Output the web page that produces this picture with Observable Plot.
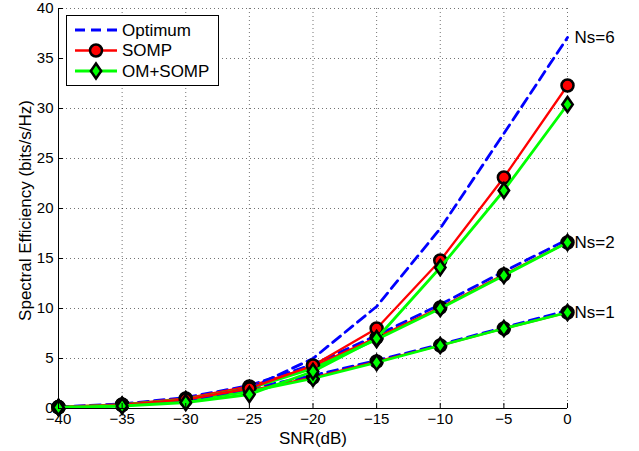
<!DOCTYPE html>
<html>
<head>
<meta charset="utf-8">
<script src="https://cdn.jsdelivr.net/npm/d3@7"></script>
<script src="https://cdn.jsdelivr.net/npm/@observablehq/plot@0.6"></script>
<style>
  html, body { margin: 0; padding: 0; background: #fff; }
  #wrap { position: relative; width: 639px; height: 451px; font-family: "Liberation Sans", Arial, Helvetica, sans-serif; }
  #legend { position: absolute; left: 66px; top: 15px; }
</style>
</head>
<body>
<div id="wrap"></div>
<script>
// ---- data ----
const snr = [-40, -35, -30, -25, -20, -15, -10, -5, 0];
const nsGroups = [1, 2, 6];
const optimum = {
  1: [0.15, 0.4, 1.0, 2.0, 3.3, 4.8, 6.4, 8.1, 9.8],
  2: [0.15, 0.45, 1.1, 2.3, 4.4, 7.3, 10.4, 13.7, 16.9],
  6: [0.1, 0.3, 0.8, 2.0, 5.0, 10.2, 18.0, 27.5, 37.1]
};
const somp = {
  1: [0.12, 0.35, 0.85, 1.8, 3.1, 4.7, 6.3, 8.0, 9.6],
  2: [0.15, 0.4, 1.0, 2.2, 4.2, 7.1, 10.1, 13.4, 16.6],
  6: [0.12, 0.35, 0.9, 2.0, 4.3, 8.0, 14.8, 23.1, 32.3]
};
const omSomp = {
  1: [0.1, 0.3, 0.8, 1.7, 3.0, 4.6, 6.3, 8.0, 9.6],
  2: [0.12, 0.35, 0.9, 2.0, 4.0, 6.9, 10.0, 13.3, 16.6],
  6: [0.1, 0.25, 0.6, 1.4, 3.7, 7.0, 14.1, 21.8, 30.4]
};
const nsLabels = ["Ns=6", "Ns=2", "Ns=1"];
const nsLabelY = [37.1, 16.6, 9.6];
const xTicks = [-40, -35, -30, -25, -20, -15, -10, -5, 0];
const yTicks = [0, 5, 10, 15, 20, 25, 30, 35, 40];
const seriesNames = ["Optimum", "SOMP", "OM+SOMP"];

// ---- build tidy rows ----
const rows = (obj, method) => nsGroups.flatMap(ns => snr.map((x, i) => ({ns, method, snr: x, se: obj[ns][i]})));
const optRows = rows(optimum, "Optimum");
const sompRows = rows(somp, "SOMP");
const omRows = rows(omSomp, "OM+SOMP");

const diamond = {
  draw(ctx, size) {
    const r = Math.sqrt(size / Math.PI);
    const h = r, w = r * 0.7;
    ctx.moveTo(0, -h); ctx.lineTo(w, 0); ctx.lineTo(0, h); ctx.lineTo(-w, 0); ctx.closePath();
  }
};

const BLUE = "#0000ff", RED = "#ff0000", GREEN = "#00ff00";

const marks = [
  Plot.gridX(xTicks, {stroke: "#000", strokeOpacity: 0.55, strokeDasharray: "1,3", strokeWidth: 1}),
  Plot.gridY(yTicks, {stroke: "#000", strokeOpacity: 0.55, strokeDasharray: "1,3", strokeWidth: 1}),
];
for (const ns of nsGroups) {
  const o = optRows.filter(d => d.ns === ns);
  const s = sompRows.filter(d => d.ns === ns);
  const m = omRows.filter(d => d.ns === ns);
  marks.push(
    Plot.line(o, {x: "snr", y: "se", stroke: BLUE, strokeWidth: 2.8, strokeDasharray: "10,6"}),
    Plot.line(s, {x: "snr", y: "se", stroke: RED, strokeWidth: 2.3}),
    Plot.dot(s, {x: "snr", y: "se", r: 6, fill: RED, stroke: "#000", strokeWidth: 2.5}),
    Plot.line(m, {x: "snr", y: "se", stroke: GREEN, strokeWidth: 2.8}),
    Plot.dot(m, {x: "snr", y: "se", r: 7.5, symbol: diamond, fill: GREEN, stroke: "#000", strokeWidth: 2.5})
  );
}
marks.push(
  Plot.text(nsLabels, {x: () => 0, y: (d, i) => nsLabelY[i], text: d => d, textAnchor: "start", dx: 7, fontSize: 17, fill: "#000"}),
  Plot.ruleX([-40], {stroke: "#000", strokeWidth: 1}),
  Plot.ruleY([0], {stroke: "#000", strokeWidth: 1}),
  Plot.ruleX(xTicks, {x: d => d, y1: 0, y2: 0.5, stroke: "#000"}),
  Plot.ruleY(yTicks, {y: d => d, x1: -40, x2: -39.6, stroke: "#000"}),
  Plot.axisX(xTicks, {tickSize: 0, tickPadding: 5, fontSize: 15, label: null, tickFormat: d3.format("d")}),
  Plot.axisY(yTicks, {tickSize: 0, tickPadding: 5, fontSize: 15, label: null}),
  Plot.text(["SNR(dB)"], {frameAnchor: "bottom", dy: 30, lineAnchor: "middle", textAnchor: "middle", fontSize: 17, fill: "#000"}),
  Plot.text(["Spectral Efficiency (bits/s/Hz)"], {frameAnchor: "left", dx: -33, dy: 2, rotate: -90, textAnchor: "middle", lineAnchor: "middle", fontSize: 17, fill: "#000"})
);

const chart = Plot.plot({
  width: 639,
  height: 451,
  marginLeft: 58,
  marginRight: 72,
  marginTop: 8,
  marginBottom: 43,
  style: {fontFamily: '"Liberation Sans", Arial, Helvetica, sans-serif', color: "#000", background: "#fff", overflow: "visible"},
  x: {domain: [-40, 0]},
  y: {domain: [0, 40]},
  marks
});
const wrap = document.getElementById("wrap");
wrap.appendChild(chart);

// ---- legend (overlay) ----
const ns = "http://www.w3.org/2000/svg";
const lg = document.createElementNS(ns, "svg");
lg.setAttribute("id", "legend");
lg.setAttribute("width", 153);
lg.setAttribute("height", 71);
const styles = [
  {name: seriesNames[0], color: BLUE, dash: "10,6", width: 2.8, marker: null},
  {name: seriesNames[1], color: RED, dash: null, width: 2.3, marker: "circle"},
  {name: seriesNames[2], color: GREEN, dash: null, width: 2.8, marker: "diamond"}
];
let html = `<rect x="0.5" y="0.5" width="152" height="70" fill="#fff" stroke="#000" stroke-width="1"/>`;
styles.forEach((s, i) => {
  const cy = 15 + i * 20.5;
  html += `<line x1="9" x2="51" y1="${cy}" y2="${cy}" stroke="${s.color}" stroke-width="${s.width}" ${s.dash ? `stroke-dasharray="${s.dash}"` : ""}/>`;
  if (s.marker === "circle") html += `<circle cx="30" cy="${cy}" r="6" fill="${RED}" stroke="#000" stroke-width="2.5"/>`;
  if (s.marker === "diamond") html += `<path d="M30,${cy - 7.5}L${30 + 5.2},${cy}L30,${cy + 7.5}L${30 - 5.2},${cy}Z" fill="${GREEN}" stroke="#000" stroke-width="2.5"/>`;
  html += `<text x="56" y="${cy}" dy="0.35em" font-size="17" font-family='"Liberation Sans", Arial, sans-serif' fill="#000">${s.name}</text>`;
});
lg.innerHTML = html;
wrap.appendChild(lg);
</script>
</body>
</html>
